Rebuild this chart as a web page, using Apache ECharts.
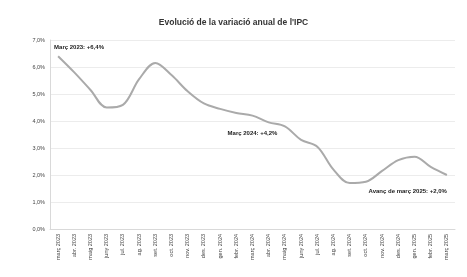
<!DOCTYPE html>
<html>
<head>
<meta charset="utf-8">
<script src="https://cdn.jsdelivr.net/npm/echarts@6/dist/echarts.min.js"></script>
<style>
  html, body { margin: 0; padding: 0; background: #fff; }
  #box01 { width: 467px; height: 277px; }
</style>
</head>
<body>
<div id="box01"></div>
<script>
// mesos (març 2023 - març 2025)
var months = ['març 2023','abr. 2023','maig 2023','juny 2023','jul. 2023','ag. 2023','set. 2023','oct. 2023','nov. 2023','des. 2023',
    'gen. 2024','febr. 2024','març 2024','abr. 2024','maig 2024','juny 2024','jul. 2024','ag. 2024','set. 2024','oct. 2024',
    'nov. 2024','des. 2024','gen. 2025','febr. 2025','març 2025'];
// variació anual IPC (%)
var ipc = [6.4, 5.8, 5.15, 4.5, 4.6, 5.55, 6.15, 5.7, 5.1, 4.65,
    4.45, 4.3, 4.2, 3.95, 3.8, 3.3, 3.05, 2.2, 1.7, 1.75,
    2.15, 2.55, 2.68, 2.3, 2.0];
// etiquetes destacades
var notes = [
    {idx: 0, text: 'Març 2023: +6,4%'},
    {idx: 12, text: 'Març 2024: +4,2%'},
    {idx: 24, text: 'Avanç de març 2025: +2,0%'}
];
var yTicks = [0, 1, 2, 3, 4, 5, 6, 7];

var myChart = echarts.init(document.getElementById('box01'));

var labelStyle = [
    {position: 'top', align: 'left', offset: [-4, -1]},
    {position: 'bottom', align: 'center', offset: [0, 10]},
    {position: 'bottom', align: 'right', offset: [0, 8]}
];

var seriesData = ipc.map(function (v, i) {
    var item = {value: v};
    notes.forEach(function (n, k) {
        if (n.idx === i) {
            item.label = {
                show: true,
                formatter: n.text,
                position: labelStyle[k].position,
                align: labelStyle[k].align,
                offset: labelStyle[k].offset,
                fontSize: 6,
                color: '#222',
                fontWeight: 'bold'
            };
        }
    });
    return item;
});

var option = {
    animation: false,
    textStyle: {fontFamily: 'Liberation Sans'},
    title: {
        text: "Evolució de la variació anual de l'IPC",
        left: 'center',
        top: 13,
        textStyle: {fontSize: 8.5, fontWeight: 'bold', color: '#333'}
    },
    grid: {left: 50, right: 12, top: 40, bottom: 48},
    xAxis: {
        type: 'category',
        data: months,
        axisLine: {lineStyle: {color: '#d9d9d9'}},
        axisTick: {show: false},
        axisLabel: {rotate: 90, fontSize: 5.5, color: '#444', interval: 0, margin: 5}
    },
    yAxis: {
        type: 'value',
        min: yTicks[0],
        max: yTicks[yTicks.length - 1],
        interval: 1,
        axisLine: {show: true, lineStyle: {color: '#d9d9d9'}},
        axisTick: {show: false},
        splitLine: {lineStyle: {color: '#ececec'}},
        axisLabel: {
            fontSize: 5.5, color: '#444', margin: 5,
            formatter: function (v) { return v.toFixed(1).replace('.', ',') + '%'; }
        }
    },
    series: [{
        type: 'line',
        data: seriesData,
        smooth: 0.35,
        symbol: 'circle',
        symbolSize: 0,
        showSymbol: true,
        lineStyle: {color: '#aaaaaa', width: 2},
        itemStyle: {color: '#aaaaaa'}
    }]
};
myChart.setOption(option);
</script>
</body>
</html>
